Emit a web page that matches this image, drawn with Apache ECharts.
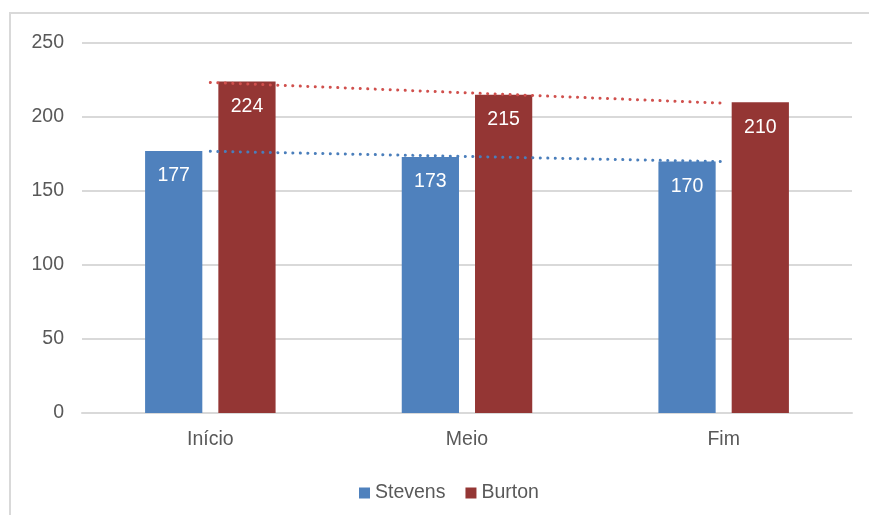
<!DOCTYPE html>
<html>
<head>
<meta charset="utf-8">
<script src="https://cdn.jsdelivr.net/npm/echarts@6/dist/echarts.min.js"></script>
<style>
html,body{margin:0;padding:0;background:#fff;}
#c{width:869px;height:515px;}
</style>
</head>
<body>
<div id="c"></div>
<script>
const categories = ['Início', 'Meio', 'Fim'];
const stevens = [177, 173, 170];
const burton = [224, 215, 210];
const yTicks = [0, 50, 100, 150, 200, 250];

function linearTrend(vals) {
  const n = vals.length;
  let sx = 0, sy = 0, sxx = 0, sxy = 0;
  vals.forEach((v, i) => { sx += i; sy += v; sxx += i * i; sxy += i * v; });
  const b = (n * sxy - sx * sy) / (n * sxx - sx * sx);
  const a = (sy - b * sx) / n;
  return vals.map((v, i) => +(a + b * i).toFixed(3));
}

const FONT = '"Liberation Sans", Arial, sans-serif';
const TXT = '#595959';
const FS = 19.5;
const chart = echarts.init(document.getElementById('c'), null, {renderer: 'canvas'});
chart.setOption({
  animation: false,
  backgroundColor: '#ffffff',
  graphic: [{
    type: 'rect',
    shape: {x: 10, y: 13, width: 880, height: 540},
    style: {fill: 'none', stroke: '#d9d9d9', lineWidth: 2},
    silent: true
  }],
  grid: {left: 82, right: 17, top: 43, bottom: 102, containLabel: false},
  legend: {
    data: ['Stevens', 'Burton'],
    left: 354,
    top: 478,
    itemWidth: 11,
    itemHeight: 11,
    itemGap: 20,
    icon: 'rect',
    textStyle: {color: TXT, fontSize: FS, fontFamily: FONT}
  },
  xAxis: {
    type: 'category',
    data: categories,
    axisTick: {show: false},
    axisLine: {show: true, lineStyle: {color: '#d9d9d9', width: 2}},
    axisLabel: {color: TXT, fontSize: FS, fontFamily: FONT, margin: 17}
  },
  yAxis: {
    type: 'value',
    min: yTicks[0],
    max: yTicks[yTicks.length - 1],
    interval: 50,
    axisLine: {show: false},
    axisTick: {show: false},
    splitLine: {lineStyle: {color: '#d9d9d9', width: 2}},
    axisLabel: {color: TXT, fontSize: FS, fontFamily: FONT, margin: 18}
  },
  series: [
    {
      name: 'Stevens', type: 'bar', data: stevens,
      barWidth: '22.3%', barGap: '28%',
      itemStyle: {color: '#4F81BD'},
      label: {show: true, position: 'insideTop', distance: 15, color: '#ffffff', fontSize: FS, fontFamily: FONT}
    },
    {
      name: 'Burton', type: 'bar', data: burton,
      barWidth: '22.3%',
      itemStyle: {color: '#943634'},
      label: {show: true, position: 'insideTop', distance: 15, color: '#ffffff', fontSize: FS, fontFamily: FONT}
    },
    {
      name: 'Stevens trend', type: 'line', data: linearTrend(stevens),
      symbol: 'none', z: 5, silent: true,
      lineStyle: {color: '#4A7EBB', width: 3, type: [0.1, 7.4], cap: 'round'}
    },
    {
      name: 'Burton trend', type: 'line', data: linearTrend(burton),
      symbol: 'none', z: 5, silent: true,
      lineStyle: {color: '#D0504D', width: 3, type: [0.1, 7.4], cap: 'round'}
    }
  ]
});
</script>
</body>
</html>
